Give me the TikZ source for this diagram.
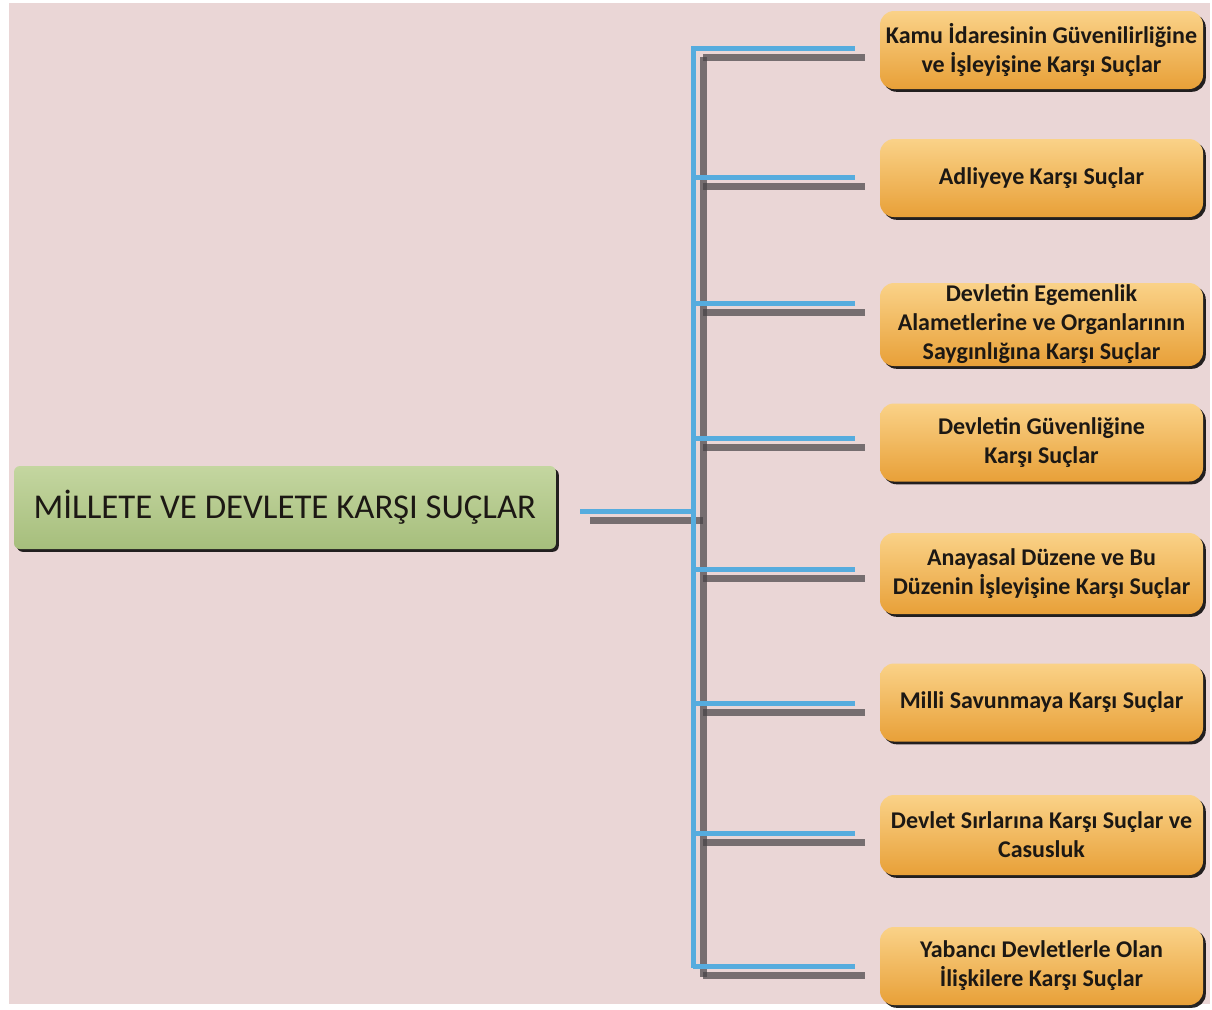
\documentclass[tikz,border=0pt]{standalone}
\usepackage{fontspec}
\setmainfont{Carlito}
\usetikzlibrary{shadows}

\definecolor{zemin}{RGB}{234,214,214}
\definecolor{mavi}{RGB}{86,172,222}
\definecolor{golge}{RGB}{70,66,70}
\definecolor{turuncuA}{RGB}{250,210,136}
\definecolor{turuncuB}{RGB}{232,160,56}
\definecolor{yesilA}{RGB}{196,214,160}
\definecolor{yesilB}{RGB}{166,190,124}
\definecolor{yazi}{RGB}{28,24,20}

\begin{document}
\begin{tikzpicture}[x=0.5pt,y=-0.5pt,
    kutu/.style={rounded corners=7pt, top color=turuncuA, bottom color=turuncuB,
        minimum width=161.5pt, minimum height=39pt, inner sep=0pt, align=center,
        text=yazi, font=\fontsize{12}{14.5}\selectfont\bfseries,
        drop shadow={shadow xshift=1.4pt, shadow yshift=-1.4pt, fill=black, opacity=0.85}},
    anakutu/.style={rounded corners=3pt, top color=yesilA, bottom color=yesilB,
        minimum width=271pt, minimum height=41.5pt, inner sep=0pt,
        text=yazi, font=\fontsize{17.4}{21}\selectfont,
        drop shadow={shadow xshift=1.4pt, shadow yshift=-1.4pt, fill=black, opacity=0.85}},
    cizgi/.style={mavi, line width=2.5pt},
    golgecizgi/.style={golge, line width=3.5pt, opacity=0.7}]

    \useasboundingbox (0,0) rectangle (1212,1009);
    \fill[white] (0,0) rectangle (1212,1009);
    \fill[zemin] (9,3) rectangle (1210,1004);

    % sol kutu
    \node[anakutu] (ana) at (285,507.5) {MİLLETE VE DEVLETE KARŞI SUÇLAR};

    % sag kutular
    \node[kutu] (k1) at (1041.5,50) {Kamu İdaresinin Güvenilirliğine\\ve İşleyişine Karşı Suçlar};
    \node[kutu] (k2) at (1041.5,178) {Adliyeye Karşı Suçlar};
    \node[kutu, minimum height=41.5pt] (k3) at (1041.5,324.5) {Devletin Egemenlik\\Alametlerine ve Organlarının\\Saygınlığına Karşı Suçlar};
    \node[kutu] (k4) at (1041.5,442.5) {Devletin Güvenliğine\\Karşı Suçlar};
    \node[kutu, minimum height=40.5pt] (k5) at (1041.5,573.5) {Anayasal Düzene ve Bu\\Düzenin İşleyişine Karşı Suçlar};
    \node[kutu] (k6) at (1041.5,702.5) {Milli Savunmaya Karşı Suçlar};
    \node[kutu, minimum height=40pt] (k7) at (1041.5,835) {Devlet Sırlarına Karşı Suçlar ve\\Casusluk};
    \node[kutu] (k8) at (1041.5,966) {Yabancı Devletlerle Olan\\İlişkilere Karşı Suçlar};

    % baglanti noktalari
    \coordinate (ust) at (693,46);
    \coordinate (alt) at (693,968);
    \coordinate (giris) at (580,511);
    \foreach \i/\y in {1/48,2/177,3/303,4/438,5/569,6/703,7/833,8/966}
        \coordinate (u\i) at (855,\y);

    % golgeler
    \begin{scope}[transform canvas={shift={(5pt,-4.5pt)}}]
        \draw[golgecizgi] (u1 -| ust) -- (alt);
        \draw[golgecizgi] (giris) -- (giris -| ust);
        \foreach \i in {1,...,8}
            \draw[golgecizgi] (u\i -| ust) -- (u\i);
    \end{scope}

    % cizgiler
    \draw[cizgi] (ust) -- (alt);
    \draw[cizgi] (giris) -- (giris -| ust);
    \foreach \i in {1,...,8}
        \draw[cizgi] (u\i -| ust) -- (u\i);
\end{tikzpicture}
\end{document}
